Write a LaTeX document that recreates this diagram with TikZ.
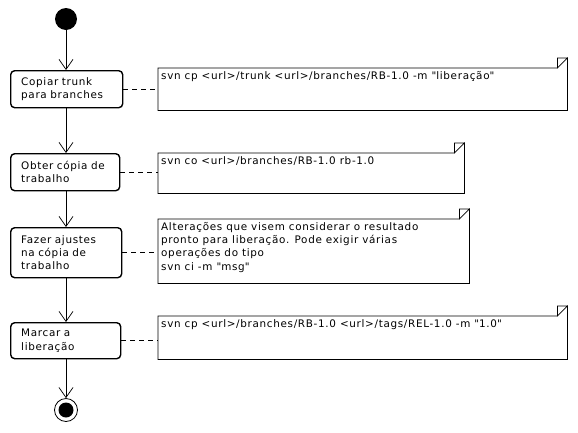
\documentclass[tikz,border=0pt]{standalone}
\usepackage{fontspec}
\setmainfont[LetterSpace=6.5]{DejaVu Sans}
\usetikzlibrary{arrows.meta}
\newcommand{\dq}{\textquotedbl}
\begin{document}
\begin{tikzpicture}[x=1pt,y=-1pt,
  every node/.style={font=\fontsize{10.4}{13.3}\selectfont},
  act/.style={draw, line width=1.4pt, rounded corners=4pt, inner xsep=10pt, inner ysep=0pt, align=left, anchor=north west},
  notebox/.style={inner sep=0pt, anchor=north west},
  notetext/.style={inner sep=0pt, anchor=north west, align=left},
  flow/.style={line width=0.7pt, -{Straight Barb[length=10pt,width=14pt,line width=0.7pt]}},
  link/.style={line width=0.7pt, dash pattern=on 5pt off 4pt},
  notedraw/.style={line width=0.7pt}
]
\useasboundingbox (0,0) rectangle (578,432);
% start / end
\node[circle, fill=black, minimum size=22pt, inner sep=0pt] (start) at (66,19) {};
\node[circle, draw, line width=0.8pt, minimum size=23pt, inner sep=0pt] (end) at (66,410) {};
\node[circle, fill=black, minimum size=15pt, inner sep=0pt] (endin) at (66,410) {};
% activities
\node[act, minimum width=112pt, minimum height=37pt, text width=91pt] (a1) at (10,70) {Copiar trunk\\para branches};
\node[act, minimum width=109pt, minimum height=37pt, text width=88pt] (a2) at (10,153) {Obter cópia de\\trabalho};
\node[act, minimum width=111pt, minimum height=50pt, text width=90pt] (a3) at (10,227) {Fazer ajustes\\na cópia de\\trabalho};
\node[act, minimum width=110pt, minimum height=36pt, text width=89pt] (a4) at (10,322) {Marcar a\\liberação};
% notes (frames)
\node[notebox, minimum width=409pt, minimum height=42pt] (n1) at (158,68) {};
\node[notebox, minimum width=306pt, minimum height=40pt] (n2) at (158,153) {};
\node[notebox, minimum width=311pt, minimum height=64pt] (n3) at (158,219) {};
\node[notebox, minimum width=409pt, minimum height=43pt] (n4) at (158,316) {};
\foreach \n in {n1,n2,n3,n4}{
  \draw[notedraw] ([xshift=-10pt]\n.north east) -- (\n.north west) -- (\n.south west) -- (\n.south east) -- ([yshift=10pt]\n.north east) -- ([xshift=-10pt]\n.north east) -- ([xshift=-10pt,yshift=10pt]\n.north east) -- ([yshift=10pt]\n.north east);
}
\node[notetext] (t1) at (161,71) {svn cp <url>/trunk <url>/branches/RB-1.0 -m \dq liberação\dq};
\node[notetext] (t2) at (161,156) {svn co <url>/branches/RB-1.0 rb-1.0};
\node[notetext] (t3) at (161,222) {Alterações que visem considerar o resultado\\pronto para liberação. Pode exigir várias\\operações do tipo\\svn ci -m \dq msg\dq};
\node[notetext] (t4) at (161,319) {svn cp <url>/branches/RB-1.0 <url>/tags/REL-1.0 -m \dq 1.0\dq};
% flows
\draw[flow] (start) -- (a1.north -| start);
\draw[flow] (a1.south -| start) -- (a2.north -| start);
\draw[flow] (a2.south -| start) -- (a3.north -| start);
\draw[flow] (a3.south -| start) -- (a4.north -| start);
\draw[flow] (a4.south -| start) -- (end);
% links
\draw[link] (a1.east) -- (a1.east -| n1.west);
\draw[link] (a2.east) -- (a2.east -| n2.west);
\draw[link] (a3.east) -- (a3.east -| n3.west);
\draw[link] (a4.east) -- (a4.east -| n4.west);
\end{tikzpicture}
\end{document}
